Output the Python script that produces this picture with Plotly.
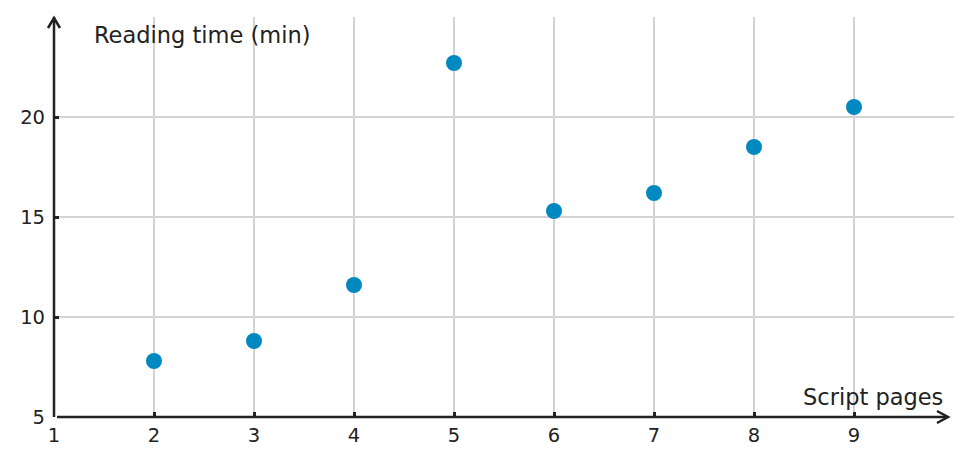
import plotly.graph_objects as go

# pages of script vs. reading time
pages = [2, 3, 4, 5, 6, 7, 8, 9]
minutes = [7.8, 8.8, 11.6, 22.7, 15.3, 16.2, 18.5, 20.5]
x_ticks = [1, 2, 3, 4, 5, 6, 7, 8, 9]
y_ticks = [5, 10, 15, 20]

ink = "#222222"
font = "DejaVu Sans"

fig = go.Figure()
fig.add_trace(go.Scatter(
    x=pages, y=minutes, mode="markers",
    marker=dict(color="#0088c0", size=16),
    cliponaxis=False,
))

axis_common = dict(
    showgrid=True, gridcolor="#d3d3d3", gridwidth=1.5,
    showline=False,
    ticks="inside", ticklen=5, tickwidth=2.5, tickcolor=ink,
    tickfont=dict(family=font, size=19.5, color=ink),
    zeroline=False,
)

# page body has an 8px margin, so the figure is a bit smaller than the window
fig.update_layout(
    width=963, height=457,
    margin=dict(l=46, r=17, t=9, b=48),
    plot_bgcolor="white", paper_bgcolor="white",
    showlegend=False,
    xaxis=dict(range=[1, 10], tickvals=x_ticks, ticklabelstandoff=4, **axis_common),
    yaxis=dict(range=[5, 25], tickvals=y_ticks, ticklabelstandoff=8, **axis_common),
    annotations=[
        dict(text="Reading time (min)", x=0.042, y=1.0, xref="paper", yref="paper",
             xanchor="left", yanchor="top", yshift=-3, showarrow=False,
             font=dict(family=font, size=22.5, color=ink)),
        dict(text="Script pages", x=0.99, y=0.0, xref="paper", yref="paper",
             xanchor="right", yanchor="bottom", yshift=5, showarrow=False,
             font=dict(family=font, size=22.5, color=ink)),
    ],
    shapes=[
        # y axis line with arrow head
        dict(type="line", xref="paper", yref="paper", x0=0, x1=0, y0=0, y1=1,
             line=dict(color=ink, width=2.5)),
        dict(type="path", xref="paper", yref="paper", xsizemode="pixel", ysizemode="pixel",
             xanchor=0, yanchor=1, path="M -6,-11 L 0,-1 L 6,-11",
             line=dict(color=ink, width=2.5)),
        # x axis line with arrow head
        dict(type="line", xref="paper", yref="paper", xsizemode="pixel",
             xanchor=0, x0=3, x1=893, y0=0, y1=0,
             line=dict(color=ink, width=2.5)),
        dict(type="path", xref="paper", yref="paper", xsizemode="pixel", ysizemode="pixel",
             xanchor=0, yanchor=0, path="M 883,6 L 894,0 L 883,-6",
             line=dict(color=ink, width=2.5)),
    ],
)

fig.write_html("out.html")
